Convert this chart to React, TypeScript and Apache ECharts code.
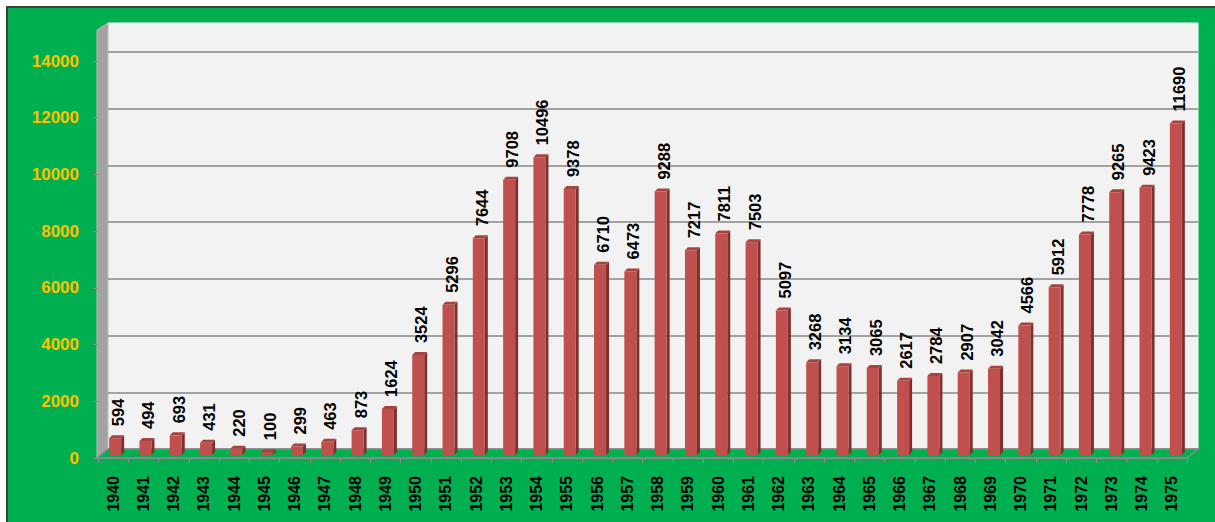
import React, { useEffect, useRef } from "react";
import * as echarts from "echarts";

const years = [
  "1940", "1941", "1942", "1943", "1944", "1945", "1946", "1947", "1948", "1949",
  "1950", "1951", "1952", "1953", "1954", "1955", "1956", "1957", "1958", "1959",
  "1960", "1961", "1962", "1963", "1964", "1965", "1966", "1967", "1968", "1969",
  "1970", "1971", "1972", "1973", "1974", "1975",
];
const values = [
  594, 494, 693, 431, 220, 100, 299, 463, 873, 1624,
  3524, 5296, 7644, 9708, 10496, 9378, 6710, 6473, 9288, 7217,
  7811, 7503, 5097, 3268, 3134, 3065, 2617, 2784, 2907, 3042,
  4566, 5912, 7778, 9265, 9423, 11690,
];
const yMin = 0;
const yMax = 14000;
const yInterval = 2000;

const FONT = "'Liberation Sans', Arial, sans-serif";
const GREEN = "#00B050";
const GRID_GRAY = "#878787";

export default function App() {
  const ref = useRef<HTMLDivElement>(null);
  useEffect(() => {
    if (!ref.current) return;
    const chart = echarts.init(ref.current, undefined, { renderer: "svg" });
    const barData = values.map((v, i) => [i, v]);
    const option: any = {
      animation: false,
      backgroundColor: "#FFFFFF",
      graphic: [
        {
          type: "rect",
          z: -20,
          shape: { x: 7, y: 7, width: 1230, height: 530 },
          style: { fill: GREEN, stroke: "#404040", lineWidth: 2 },
        },
        {
          type: "rect",
          z: -15,
          shape: { x: 108, y: 23, width: 1090, height: 426 },
          style: { fill: "#F2F2F2", stroke: "#FAFAFA", lineWidth: 1 },
        },
        {
          type: "polygon",
          z: -14,
          shape: { points: [[97, 30], [108, 23], [108, 449], [97, 458]] },
          style: { fill: "#A3A3A3", stroke: "#BDBDBD", lineWidth: 1 },
        },
        {
          type: "polygon",
          z: -14,
          shape: { points: [[97, 458], [108, 449], [1198, 449], [1187, 458]] },
          style: { fill: GREEN, stroke: "#8C8C8C", lineWidth: 1.5 },
        },
      ],
      grid: [
        { left: 108, right: 17, top: 52, bottom: 73 },
        { left: 98, right: 28, top: 61, bottom: 64 },
        { left: 97, right: 27, top: 58, bottom: 67 },
      ],
      xAxis: [
        {
          type: "category",
          gridIndex: 0,
          data: years,
          show: false,
        },
        {
          type: "category",
          gridIndex: 1,
          data: years,
          boundaryGap: true,
          axisLine: { show: true, lineStyle: { color: "#8C8C8C", width: 1 } },
          axisTick: { show: true, length: 5, lineStyle: { color: "#8C8C8C" } },
          axisLabel: {
            rotate: 90,
            interval: 0,
            margin: 18,
            color: "#000000",
            fontSize: 16,
            fontWeight: "bold",
            fontFamily: FONT,
          },
        },
        {
          type: "category",
          gridIndex: 2,
          data: years,
          show: false,
        },
      ],
      yAxis: [
        {
          type: "value",
          gridIndex: 0,
          min: yMin,
          max: yMax,
          interval: yInterval,
          axisLine: { show: false },
          axisTick: { show: false },
          axisLabel: { show: false },
          splitLine: { show: true, lineStyle: { color: GRID_GRAY, width: 1.5 } },
        },
        {
          type: "value",
          gridIndex: 1,
          min: yMin,
          max: yMax,
          interval: yInterval,
          axisLine: { show: false },
          axisTick: { show: true, length: 5, lineStyle: { color: "#8C8C8C" } },
          axisLabel: {
            margin: 19,
            color: "#FFC000",
            fontSize: 17,
            fontWeight: "bold",
            fontFamily: FONT,
            formatter: (v: number) => String(v),
          },
          splitLine: { show: false },
        },
        {
          type: "value",
          gridIndex: 2,
          min: yMin,
          max: yMax,
          interval: yInterval,
          show: false,
          splitLine: { show: false },
        },
      ],
      series: [
        {
          type: "custom",
          xAxisIndex: 2,
          yAxisIndex: 2,
          encode: { x: 0, y: 1 },
          data: barData,
          renderItem: (params: any, api: any) => {
            const i = api.value(0);
            const v = api.value(1);
            const top = api.coord([i, v]);
            const base = api.coord([i, 0]);
            const cx = top[0];
            const ty = top[1];
            const by = base[1];
            const l = cx - 3;
            const r = cx + 9;
            const d = 3;
            return {
              type: "group",
              children: [
                {
                  type: "polygon",
                  shape: { points: [[r, ty], [r + d, ty - d], [r + d, by - d], [r, by]] },
                  style: { fill: "#7F302E" },
                },
                {
                  type: "polygon",
                  shape: { points: [[l, ty], [l + d, ty - d], [r + d, ty - d], [r, ty]] },
                  style: { fill: "#A8423F" },
                },
                {
                  type: "rect",
                  shape: { x: l, y: ty, width: r - l, height: by - ty },
                  style: { fill: "#C0504D" },
                },
                {
                  type: "text",
                  x: cx + 6,
                  y: ty - 12,
                  rotation: Math.PI / 2,
                  style: {
                    text: String(v),
                    fill: "#000000",
                    font: `bold 16.5px ${FONT}`,
                    align: "left",
                    verticalAlign: "middle",
                  },
                },
              ],
            };
          },
        },
      ],
    };
    chart.setOption(option);
    return () => chart.dispose();
  }, []);
  return (
    <div
      ref={ref}
      style={{ position: "absolute", left: 0, top: 0, width: 1215, height: 522 }}
    />
  );
}
